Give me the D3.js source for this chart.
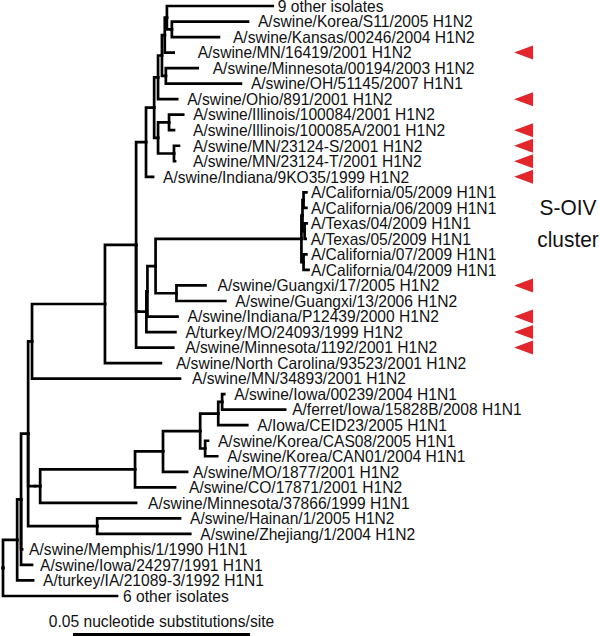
<!DOCTYPE html>
<html><head><meta charset="utf-8">
<script src="https://cdn.jsdelivr.net/npm/d3@7"></script>
<style>
html,body{margin:0;padding:0;background:#fff;}
svg{display:block;}
text{font-family:"Liberation Sans",Arial,Helvetica,sans-serif;fill:#111;}
</style></head><body>
<svg id="chart" width="600" height="636"></svg>
<script>
// ---------------- DATA ----------------
// Tree topology and branch lengths (nucleotide substitutions/site), Newick format
const treeNewick =
"(((((((((((((((('9 other isolates':0.0299,('A/swine/Korea/S11/2005 H1N2':0.0215,'A/swine/Kansas/00246/2004 H1N2':0.0133):0.0014):0.0006," +
"'A/swine/MN/16419/2001 H1N2':0.0025):0.0008," +
"('A/swine/Minnesota/00194/2003 H1N2':0.0090,'A/swine/OH/51145/2007 H1N1':0.0212):0.0011):0.0011," +
"'A/swine/Ohio/891/2001 H1N2':0.0054):0.0011," +
"(('A/swine/Illinois/100084/2001 H1N2':0.0040,'A/swine/Illinois/100085A/2001 H1N2':0.0014):0.0031," +
"('A/swine/MN/23124-S/2001 H1N2':0.0014,'A/swine/MN/23124-T/2001 H1N2':0.0003):0.0045):0.0011):0.0023," +
"'A/swine/Indiana/9KO35/1999 H1N2':0.0020):0.0028," +
"((((((('A/California/05/2009 H1N1':0.0008,'A/California/06/2009 H1N1':0.0008):0.0003,('A/Texas/04/2009 H1N1':0.0006,'A/Texas/05/2009 H1N1':0.0003):0.0006):0.0003," +
"('A/California/07/2009 H1N1':0.0008,'A/California/04/2009 H1N1':0.0014):0.0006):0.0412," +
"('A/swine/Guangxi/17/2005 H1N2':0.0082,'A/swine/Guangxi/13/2006 H1N2':0.0138):0.0059):0.0023," +
"'A/swine/Indiana/P12439/2000 H1N2':0.0085):0.0003," +
"'A/turkey/MO/24093/1999 H1N2':0.0082):0.0023):0.0006," +
"'A/swine/Minnesota/1192/2001 H1N2':0.0105):0.0088," +
"'A/swine/North Carolina/93523/2001 H1N2':0.0158):0.0206," +
"'A/swine/MN/34893/2001 H1N2':0.0418):0.0011," +
"((((((('A/swine/Iowa/00239/2004 H1N1':0.0006,'A/ferret/Iowa/15828B/2008 H1N1':0.0178):0.0011,'A/Iowa/CEID23/2005 H1N1':0.0082):0.0051," +
"('A/swine/Korea/CAS08/2005 H1N1':0.0008,'A/swine/Korea/CAN01/2004 H1N1':0.0034):0.0014):0.0105," +
"'A/swine/MO/1877/2001 H1N2':0.0068):0.0079," +
"'A/swine/CO/17871/2001 H1N2':0.0113):0.0268," +
"'A/swine/Minnesota/37866/1999 H1N1':0.0271):0.0014):0.0020," +
"('A/swine/Hainan/1/2005 H1N2':0.0234,'A/swine/Zhejiang/1/2004 H1N2':0.0263):0.0195):0.0020," +
"'A/swine/Memphis/1/1990 H1N1':0.0003,'A/swine/Iowa/24297/1991 H1N1':0.0031):0.0011," +
"'A/turkey/IA/21089-3/1992 H1N1':0.0045):0.0040," +
"'6 other isolates':0.0322);";

// Taxa flagged with red arrowheads
const markedTaxa = [
  "A/swine/MN/16419/2001 H1N2",
  "A/swine/Ohio/891/2001 H1N2",
  "A/swine/Illinois/100085A/2001 H1N2",
  "A/swine/MN/23124-S/2001 H1N2",
  "A/swine/MN/23124-T/2001 H1N2",
  "A/swine/Indiana/9KO35/1999 H1N2",
  "A/swine/Guangxi/17/2005 H1N2",
  "A/swine/Indiana/P12439/2000 H1N2",
  "A/turkey/MO/24093/1999 H1N2",
  "A/swine/Minnesota/1192/2001 H1N2"
];
const cladeLabel = ["S-OIV", "cluster"];
const scaleBarValue = 0.05;
const scaleBarLabel = "0.05 nucleotide substitutions/site";

// ---------------- LAYOUT / STYLE ----------------
const W = 600, H = 636;
const defaultGap = 10;
const labelGap = {
  "9 other isolates": 5,
  "A/swine/Kansas/00246/2004 H1N2": 14,
  "A/swine/MN/16419/2001 H1N2": 24,
  "A/swine/Minnesota/00194/2003 H1N2": 15,
  "A/swine/Illinois/100085A/2001 H1N2": 19,
  "A/swine/MN/23124-S/2001 H1N2": 14,
  "A/swine/MN/23124-T/2001 H1N2": 18,
  "A/California/05/2009 H1N1": 4.5,
  "A/California/06/2009 H1N1": 4.5,
  "A/Texas/04/2009 H1N1": 4,
  "A/Texas/05/2009 H1N1": 5,
  "A/California/07/2009 H1N1": 4.5,
  "A/California/04/2009 H1N1": 2.5,
  "A/swine/Guangxi/17/2005 H1N2": 12,
  "A/swine/Minnesota/1192/2001 H1N2": 12,
  "A/swine/North Carolina/93523/2001 H1N2": 15,
  "A/swine/MN/34893/2001 H1N2": 12,
  "A/ferret/Iowa/15828B/2008 H1N1": 7,
  "A/swine/MO/1877/2001 H1N2": 6,
  "A/swine/CO/17871/2001 H1N2": 14,
  "A/swine/Minnesota/37866/1999 H1N1": 12,
  "A/swine/Memphis/1/1990 H1N1": 7,
  "A/swine/Iowa/24297/1991 H1N1": 8,
  "6 other isolates": 6
};
const fontSize = 16.5, textSqueeze = 0.945;
const lineW = 2.7;
const red = "#e3262b";

function parseNewick(s) {
  let i = 0;
  function node() {
    const n = {children: []};
    if (s[i] === "(") {
      i++;
      n.children.push(node());
      while (s[i] === ",") { i++; n.children.push(node()); }
      i++; // ')'
    }
    let name = "";
    if (s[i] === "'") { i++; while (s[i] !== "'") name += s[i++]; i++; }
    else { while (i < s.length && !",():;".includes(s[i])) name += s[i++]; }
    n.name = name.trim();
    n.length = 0;
    if (s[i] === ":") {
      i++; let num = "";
      while (i < s.length && !",();".includes(s[i])) num += s[i++];
      n.length = +num;
    }
    if (!n.children.length) delete n.children;
    return n;
  }
  return node();
}

const root = d3.hierarchy(parseNewick(treeNewick));
root.each(d => { d.dist = (d.parent ? d.parent.dist : 0) + (d.parent ? d.data.length : 0); });
const leaves = root.leaves();

const x = d3.scaleLinear().domain([0, scaleBarValue]).range([3, 180]);
const y = d3.scalePoint().domain(leaves.map(d => d.data.name)).range([6, 596]);

root.eachAfter(d => {
  d.px = x(d.dist);
  d.py = d.children ? (d.children[0].py + d.children[d.children.length - 1].py) / 2 : y(d.data.name);
});

const svg = d3.select("#chart");
svg.append("rect").attr("width", W).attr("height", H).attr("fill", "#fff");

// branches (rectangular elbows)
svg.append("g")
  .attr("fill", "none").attr("stroke", "#000").attr("stroke-width", lineW)
  .attr("stroke-linecap", "square").attr("stroke-linejoin", "miter")
  .selectAll("path").data(root.links()).join("path")
  .attr("d", l => `M${l.source.px},${l.source.py}V${l.target.py}H${l.target.px}`);

// tip labels
svg.append("g").selectAll("text").data(leaves).join("text")
  .attr("transform", d => {
    const g = labelGap[d.data.name] ?? defaultGap;
    return `translate(${d.px + g},${d.py}) scale(${textSqueeze},1)`;
  })
  .attr("dy", "0.35em")
  .attr("font-size", fontSize)
  .text(d => d.data.name);

// red arrowheads
const tri = "M0,0L19,-7L19,7Z";
svg.append("g").selectAll("path").data(markedTaxa).join("path")
  .attr("transform", d => `translate(514,${y(d)})`)
  .attr("d", tri).attr("fill", red);

// S-OIV cluster label
const sLeaves = leaves.filter(d => /2009/.test(d.data.name));
const sMid = (sLeaves[0].py + sLeaves[sLeaves.length - 1].py) / 2;
svg.append("g").selectAll("text").data(cladeLabel).join("text")
  .attr("transform", (d, i) => `translate(568,${sMid + (i === 0 ? -16 : 16)}) scale(0.95,1)`)
  .attr("text-anchor", "middle")
  .attr("font-size", 22)
  .text(d => d);

// scale bar
const barX0 = 73;
svg.append("line")
  .attr("x1", barX0).attr("x2", barX0 + (x(scaleBarValue) - x(0)))
  .attr("y1", 634.5).attr("y2", 634.5)
  .attr("stroke", "#000").attr("stroke-width", 3);
svg.append("text")
  .attr("transform", `translate(${barX0 + (x(scaleBarValue) - x(0)) / 2},627) scale(${textSqueeze},1)`)
  .attr("text-anchor", "middle").attr("font-size", fontSize)
  .text(scaleBarLabel);
</script>
</body></html>
